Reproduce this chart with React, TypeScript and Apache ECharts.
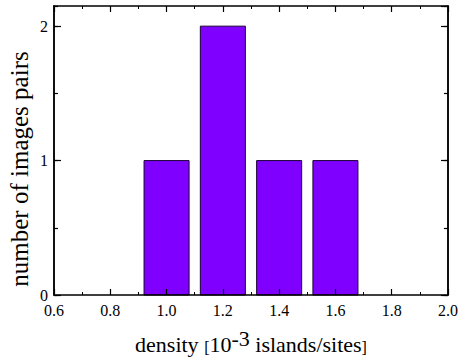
import React, { useEffect, useRef } from "react";
import * as echarts from "echarts";

const binCenters = [1.0, 1.2, 1.4, 1.6];
const counts = [1, 2, 1, 1];
const binWidth = 0.16;
const xMin = 0.6;
const xMax = 2.0;
const xStep = 0.2;
const yMin = 0;
const yMax = 2.15;
const yStep = 1;
const yMinorStep = 0.5;

const FONT = "Liberation Serif";

export default function App() {
  const ref = useRef<HTMLDivElement>(null);
  useEffect(() => {
    if (!ref.current) return;
    const chart = echarts.init(ref.current, null, { renderer: "svg" });
    const line = { color: "#000", width: 1.5 };
    const baseX = {
      type: "value",
      min: xMin,
      max: xMax,
      interval: xStep,
      z: 5,
      axisLine: { onZero: false, lineStyle: line },
      axisTick: { inside: true, length: 6, lineStyle: { color: "#000", width: 1.2 } },
      minorTick: { show: true, splitNumber: 2, length: 3, lineStyle: { color: "#000", width: 1 } },
      splitLine: { show: false },
      minorSplitLine: { show: false },
    };
    const baseY = (interval: number, tickLen: number) => ({
      type: "value",
      min: yMin,
      max: yMax,
      interval,
      z: 5,
      axisLine: { onZero: false, lineStyle: line },
      axisTick: { inside: true, length: tickLen, lineStyle: { color: "#000", width: 1.2 } },
      splitLine: { show: false },
    });
    chart.setOption({
      animation: false,
      textStyle: { fontFamily: FONT },
      grid: { left: 54, right: 13, top: 6, bottom: 68, containLabel: false },
      xAxis: [
        {
          ...baseX,
          position: "bottom",
          axisLabel: {
            margin: 7,
            fontFamily: FONT,
            fontSize: 16,
            color: "#000",
            formatter: (v: number) => v.toFixed(1),
          },
        },
        { ...baseX, position: "top", axisLabel: { show: false } },
      ],
      yAxis: [
        {
          ...baseY(yStep, 7),
          position: "left",
          axisLabel: {
            margin: 6,
            fontFamily: FONT,
            fontSize: 16,
            color: "#000",
            showMaxLabel: false,
            formatter: (v: number) => (Number.isInteger(v) ? String(v) : ""),
          },
        },
        { ...baseY(yMinorStep, 4), position: "left", axisLabel: { show: false } },
        { ...baseY(yStep, 7), position: "right", axisLabel: { show: false } },
        { ...baseY(yMinorStep, 4), position: "right", axisLabel: { show: false } },
      ],
      series: [
        {
          type: "custom",
          xAxisIndex: 0,
          yAxisIndex: 0,
          z: 2,
          data: binCenters.map((c, i) => [c, counts[i]]),
          renderItem: (params: any, api: any) => {
            const x = api.value(0);
            const y = api.value(1);
            const p1 = api.coord([x - binWidth / 2, y]);
            const p2 = api.coord([x + binWidth / 2, 0]);
            return {
              type: "rect",
              shape: { x: p1[0], y: p1[1], width: p2[0] - p1[0], height: p2[1] - p1[1] },
              style: { fill: "#7F00FF", stroke: "#1a0033", lineWidth: 1 },
            };
          },
        },
      ],
      graphic: [
        {
          type: "text",
          x: 251,
          y: 344,
          style: {
            text: "{a|density }{b|[}{a|10}{s|-3}{a| islands/sites}{b|]}",
            textAlign: "center",
            textVerticalAlign: "middle",
            fontFamily: FONT,
            rich: {
              a: { fontFamily: FONT, fontSize: 22, fill: "#000" },
              b: { fontFamily: FONT, fontSize: 16, fill: "#000", padding: [6, 0, 0, 0] },
              s: { fontFamily: FONT, fontSize: 22, fill: "#000", padding: [0, 0, 12, 0] },
            },
          },
        },
        {
          type: "text",
          x: 19,
          y: 169,
          rotation: Math.PI / 2,
          style: {
            text: "number of images pairs",
            fontFamily: FONT,
            fontSize: 25,
            fill: "#000",
            textAlign: "center",
            textVerticalAlign: "middle",
          },
        },
      ],
    });
    return () => chart.dispose();
  }, []);
  return (
    <div
      ref={ref}
      style={{ position: "absolute", left: 0, top: 0, width: 461, height: 363 }}
    />
  );
}
